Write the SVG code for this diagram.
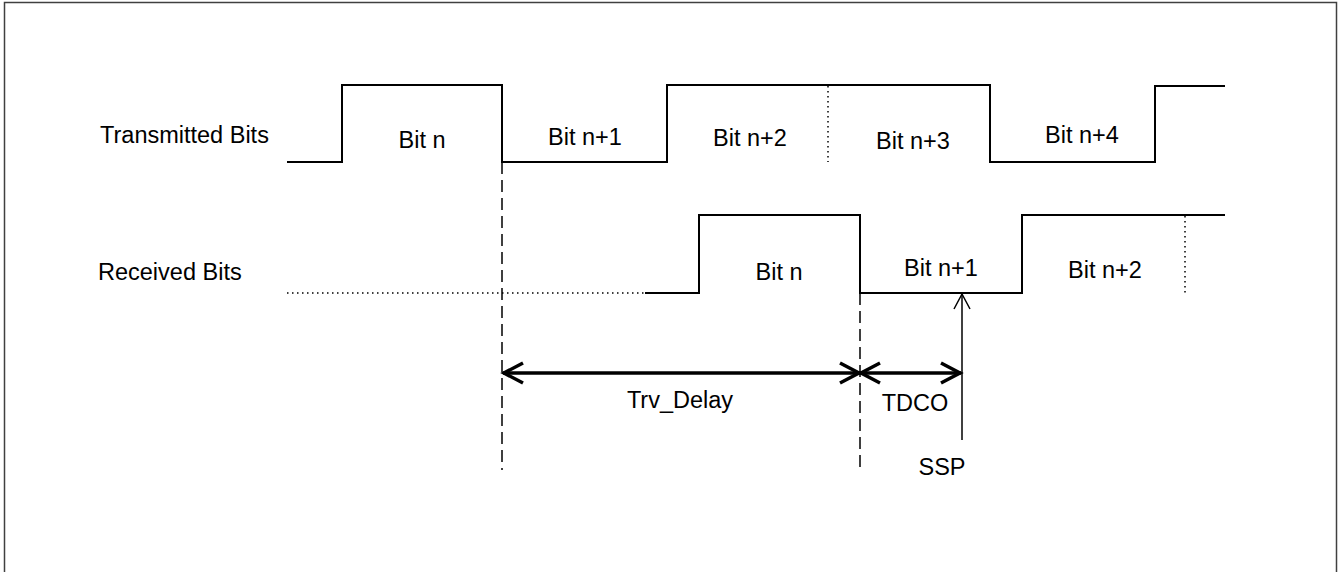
<svg xmlns="http://www.w3.org/2000/svg" width="1341" height="572" viewBox="0 0 1341 572">
<defs>
<style>
.sig{fill:none;stroke:#000;stroke-width:2}
.dot{fill:none;stroke:#000;stroke-width:1.5;stroke-dasharray:1.5 3.5}
.dash{fill:none;stroke:#000;stroke-width:1.5;stroke-dasharray:12 6}
.dim{fill:none;stroke:#000;stroke-width:3.5}
.thin{fill:none;stroke:#000;stroke-width:1.5}
text{font-family:"Liberation Sans",Arial,sans-serif;font-size:23.5px;fill:#000}
.c{text-anchor:middle}
</style>
</defs>
<rect x="0" y="0" width="1341" height="572" fill="#fff"/>
<rect x="4.5" y="2.5" width="1332" height="620" fill="none" stroke="#404040" stroke-width="1.5"/>
<g id="labels">
<text x="100" y="143">Transmitted Bits</text>
<text x="98" y="280">Received Bits</text>
</g>
<g id="transmitted">
<polyline class="sig" points="287,162 342,162 342,85 502,85 502,162 667,162 667,85 990,85 990,162 1155,162 1155,86 1225,86"/>
<line class="dot" x1="828" y1="86" x2="828" y2="162"/>
<text class="c" x="422" y="148">Bit n</text>
<text class="c" x="585" y="145">Bit n+1</text>
<text class="c" x="750" y="146">Bit n+2</text>
<text class="c" x="913" y="149">Bit n+3</text>
<text class="c" x="1082" y="143">Bit n+4</text>
</g>
<g id="received">
<line class="dot" x1="287" y1="293" x2="645" y2="293"/>
<polyline class="sig" points="645,293 699,293 699,215 860,215 860,293 1022,293 1022,215 1225,215"/>
<line class="dot" x1="1185" y1="216" x2="1185" y2="295"/>
<text class="c" x="779" y="280">Bit n</text>
<text class="c" x="941" y="276">Bit n+1</text>
<text class="c" x="1105" y="278">Bit n+2</text>
</g>
<g id="connectors">
<line class="dash" x1="502" y1="162" x2="502" y2="470"/>
<line class="dash" x1="860" y1="293" x2="860" y2="470"/>
<line class="dim" x1="503" y1="373" x2="860" y2="373"/>
<polyline class="dim" points="523,363 504,373 523,383"/>
<polyline class="dim" points="840,363 859,373 840,383"/>
<line class="dim" x1="860" y1="373" x2="961" y2="373"/>
<polyline class="dim" points="880,363 861,373 880,383"/>
<polyline class="dim" points="941,363 960,373 941,383"/>
<line class="thin" x1="962" y1="294" x2="962" y2="440"/>
<polyline class="thin" points="954,309 962,294 970,309"/>
</g>
<g id="dimlabels">
<text class="c" x="680" y="408">Trv_Delay</text>
<text class="c" x="915" y="411">TDCO</text>
<text class="c" x="942" y="475">SSP</text>
</g>
</svg>
